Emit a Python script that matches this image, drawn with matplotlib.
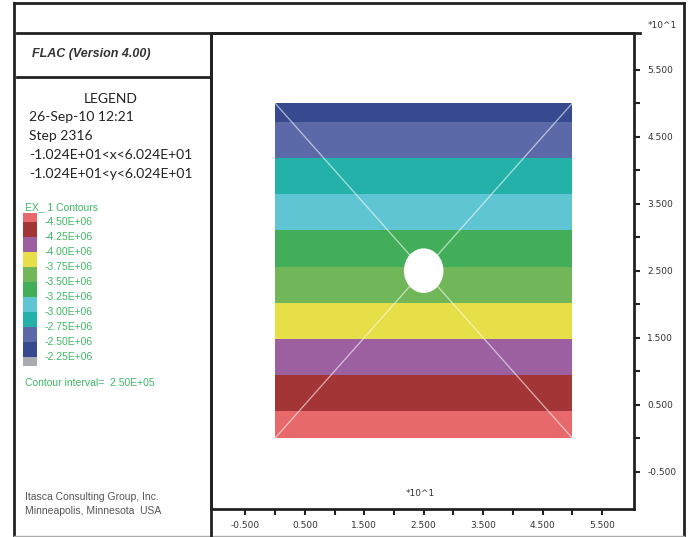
import matplotlib
matplotlib.use("Agg")
import matplotlib.pyplot as plt
import numpy as np
from matplotlib.patches import Circle

# EX_1 strain contour bands, bottom to top of the mesh (y in units of 10 m)
band_edges = [0.0, 0.41, 0.94, 1.48, 2.02, 2.56, 3.10, 3.64, 4.19, 4.72, 5.0]
band_colors = ["#e8696c", "#a43537", "#9c60a0", "#e6df47", "#71b75a",
               "#43ae59", "#60c5d3", "#24b1aa", "#5b69a9", "#374a90"]
contour_levels = [-4.50e6, -4.25e6, -4.00e6, -3.75e6, -3.50e6,
                  -3.25e6, -3.00e6, -2.75e6, -2.50e6, -2.25e6]
legend_colors = band_colors + ["#a8abb2"]

mesh_x = [0.0, 5.0]
mesh_y = [0.0, 5.0]
hole_center = (2.5, 2.5)
hole_radius = 0.333

x_major = [-0.5, 0.5, 1.5, 2.5, 3.5, 4.5, 5.5]
x_minor = [0.0, 1.0, 2.0, 3.0, 4.0, 5.0]
y_major = [-0.5, 0.5, 1.5, 2.5, 3.5, 4.5, 5.5]
y_minor = [0.0, 1.0, 2.0, 3.0, 4.0, 5.0]

W, H = 694, 537
fig = plt.figure(figsize=(W / 100, H / 100), dpi=100)
fig.patch.set_facecolor("white")

# page frame drawn in pixel coordinates
bg = fig.add_axes([0, 0, 1, 1])
bg.set_xlim(0, W)
bg.set_ylim(H, 0)
bg.axis("off")

frame = "#222222"
bg.plot([14, 684], [3, 3], color=frame, lw=2)
bg.plot([14, 14], [3, 537], color=frame, lw=2)
bg.plot([684, 684], [3, 537], color=frame, lw=2)
bg.plot([14, 684], [535.5, 535.5], color="#aaaaaa", lw=1)
bg.plot([17, 640], [33, 33], color=frame, lw=2)
bg.plot([17, 211], [77, 77], color=frame, lw=2)
bg.plot([211, 211], [33, 537], color=frame, lw=2)

bg.text(32, 54, "FLAC (Version 4.00)", fontsize=9, fontweight="bold",
        fontstyle="italic", family="Liberation Sans", color="#333333",
        va="center", ha="left")

info = ["26-Sep-10 12:21", "Step 2316",
        "-1.024E+01<x<6.024E+01", "-1.024E+01<y<6.024E+01"]
bg.text(111, 99, "LEGEND", fontsize=10, family="Lato", color="#222222",
        ha="center", va="center")
for i, line in enumerate(info):
    bg.text(29, 117 + 19 * i, line, fontsize=10, family="Lato",
            color="#222222", ha="left", va="center")

green = "#40b865"
bg.text(25, 207, "EX_ 1 Contours", fontsize=7.5, family="Liberation Sans",
        color=green, va="center", ha="left")

sw_edges = np.array([213] + [222 + 15 * i for i in range(10)] + [366])
bg.bar(23, np.diff(sw_edges), bottom=sw_edges[:-1], width=14, align="edge",
       color=legend_colors, linewidth=0)
for y, lev in zip(sw_edges[1:-1], contour_levels):
    bg.text(45, y, "%.2E" % lev, fontsize=7.5, family="Liberation Sans",
            color=green, va="center", ha="left")

bg.text(25, 383, "Contour interval=  2.50E+05", fontsize=7.5,
        family="Liberation Sans", color=green, va="center", ha="left")

bg.text(25, 497, "Itasca Consulting Group, Inc.", fontsize=7.5,
        family="Liberation Sans", color="#555555", va="center", ha="left")
bg.text(25, 511, "Minneapolis, Minnesota  USA", fontsize=7.5,
        family="Liberation Sans", color="#555555", va="center", ha="left")

bg.text(662, 25, "*10^1", fontsize=6.5, color="#333333", ha="center", va="center")
bg.text(420, 494, "*10^1", fontsize=6.5, color="#333333", ha="center", va="center")

# model plot
ax = fig.add_axes([211 / W, 1 - 509 / H, (634 - 211) / W, (509 - 33) / H])
ax.set_xlim(-1.08, 6.04)
ax.set_ylim(-1.06, 6.05)
ax.set_facecolor("none")

ax.bar(mesh_x[0], np.diff(band_edges), bottom=band_edges[:-1],
       width=mesh_x[1] - mesh_x[0], align="edge", color=band_colors, linewidth=0)
ax.plot([mesh_x[0], mesh_x[1]], [mesh_y[0], mesh_y[1]], color="white", lw=0.9, alpha=0.6)
ax.plot([mesh_x[0], mesh_x[1]], [mesh_y[1], mesh_y[0]], color="white", lw=0.9, alpha=0.6)
ax.add_patch(Circle(hole_center, hole_radius, facecolor="white", edgecolor="none", zorder=3))

for s in ax.spines.values():
    s.set_linewidth(2)
    s.set_color(frame)

ax.yaxis.tick_right()
ax.set_xticks(x_major)
ax.set_xticks(x_minor, minor=True)
ax.set_yticks(y_major)
ax.set_yticks(y_minor, minor=True)
ax.set_xticklabels(["%.3f" % v for v in x_major])
ax.set_yticklabels(["%.3f" % v for v in y_major])
ax.tick_params(which="both", direction="out", length=4.5, width=1.5, color=frame)
ax.tick_params(axis="x", labelsize=6.5, pad=4, labelcolor="#333333")
ax.tick_params(axis="y", labelsize=6.5, pad=5, labelcolor="#333333")

fig.savefig("out.png", dpi=100)
